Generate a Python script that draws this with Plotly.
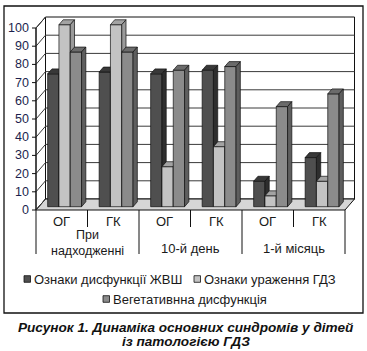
import plotly.graph_objects as go

# ---------------- data ----------------
subcats = ["ОГ", "ГК", "ОГ", "ГК", "ОГ", "ГК"]
groups = ["При<br>надходженні", "10-й день", "1-й місяць"]
series_names = ["Ознаки дисфункції ЖВШ", "Ознаки ураження ГДЗ", "Вегетативнна дисфункція"]
zhvsh = [73, 74, 73, 75, 14, 27]
gdz = [100, 100, 22, 33, 6, 14]
veg = [85, 85, 75, 77, 55, 62]
y_ticks = [0, 10, 20, 30, 40, 50, 60, 70, 80, 90, 100]
caption = ["Рисунок 1. Динаміка основних синдромів у дітей", "із патологією ГДЗ"]

series = [zhvsh, gdz, veg]
front_col = ["#4f4f4f", "#c3c3c3", "#8b8b8b"]
top_col = ["#383838", "#a3a3a3", "#6b6b6b"]
side_col = ["#2e2e2e", "#9a9a9a", "#5e5e5e"]

# ---------------- geometry (x in px, y in value units) ----------------
W_FIG, H_FIG = 367, 351
ZERO_PX = 210.0
K = 1.82  # px per unit
def py(p):
    return (ZERO_PX - p) / K

X_L, X_R = 36.0, 345.0
DX = 9.5
DY = 11.0 / K
NC = len(subcats)
CW = (X_R - X_L) / NC
BW = 11.3
F0, FB = 0.3, 0.45

fig = go.Figure()
shapes = []
ann = []

# outer border
shapes.append(dict(type="rect", xref="x", yref="y", x0=4, x1=363, y0=py(6), y1=py(313),
                   line=dict(color="#111", width=1.3), fillcolor="rgba(0,0,0,0)", layer="below"))
# back wall
shapes.append(dict(type="rect", xref="x", yref="y", x0=X_L + DX, x1=X_R + DX, y0=DY, y1=100 + DY,
                   line=dict(color="#111", width=1), fillcolor="white", layer="below"))
# left side wall
shapes.append(dict(type="path", xref="x", yref="y",
                   path=f"M{X_L},0 L{X_L},100 L{X_L+DX},{100+DY} L{X_L+DX},{DY} Z",
                   line=dict(color="#111", width=1), fillcolor="white", layer="below"))
# floor
shapes.append(dict(type="path", xref="x", yref="y",
                   path=f"M{X_L},0 L{X_R},0 L{X_R+DX},{DY} L{X_L+DX},{DY} Z",
                   line=dict(color="#111", width=1), fillcolor="#d6d6d6", layer="below"))
# gridlines
for v in y_ticks:
    if 0 < v < 100:
        shapes.append(dict(type="line", xref="x", yref="y", x0=X_L + DX, x1=X_R + DX, y0=v + DY, y1=v + DY,
                           line=dict(color="#3a3a3a", width=1), layer="below"))
    shapes.append(dict(type="line", xref="x", yref="y", x0=X_L, x1=X_L + DX, y0=v, y1=v + DY,
                       line=dict(color="#3a3a3a", width=1), layer="below"))
    shapes.append(dict(type="line", xref="x", yref="y", x0=X_L - 4, x1=X_L, y0=v, y1=v,
                       line=dict(color="#111", width=1), layer="below"))
    ann.append(dict(x=X_L - 5, y=v, xref="x", yref="y", text=str(v), showarrow=False,
                    xanchor="right", yanchor="middle",
                    font=dict(family="Liberation Sans, Arial", size=12.5, color="#1c1f4e")))
# front axis
shapes.append(dict(type="line", xref="x", yref="y", x0=X_L, x1=X_L, y0=0, y1=100,
                   line=dict(color="#111", width=1), layer="below"))

# category table lines
for k in range(0, NC + 1, 2):
    shapes.append(dict(type="line", xref="x", yref="y", x0=X_L + CW * k, x1=X_L + CW * k,
                       y0=0, y1=py(254), line=dict(color="#111", width=1)))
for k in range(1, NC, 2):
    shapes.append(dict(type="line", xref="x", yref="y", x0=X_L + CW * k, x1=X_L + CW * k,
                       y0=0, y1=py(227), line=dict(color="#111", width=1)))

tfont = dict(family="Liberation Sans, Arial", size=13, color="#1a1a1a")
for c, lab in enumerate(subcats):
    ann.append(dict(x=X_L + CW * (c + 0.5), y=py(221), xref="x", yref="y", text=lab,
                    showarrow=False, font=tfont))
for g, lab in enumerate(groups):
    cx = X_L + CW * (2 * g + 1)
    two = "<br>" in lab
    ann.append(dict(x=cx, y=py(242.5 if two else 248), xref="x", yref="y", text=lab,
                    showarrow=False, yanchor="middle",
                    font=dict(family="Liberation Sans, Arial", size=12.5 if two else 13, color="#1a1a1a")))

# bars (painter's order, left to right)
for c in range(NC):
    cx = X_L + CW * (c + 0.5)
    for s, vals in enumerate(series):
        v = vals[c]
        xl = cx - 1.5 * BW + s * BW + F0 * DX
        xr = xl + BW
        b = F0 * DY
        t = b + v
        dxb, dyb = FB * DX, FB * DY
        faces = [
            ([xl, xr, xr, xl, xl], [b, b, t, t, b], front_col[s]),
            ([xl, xr, xr + dxb, xl + dxb, xl], [t, t, t + dyb, t + dyb, t], top_col[s]),
            ([xr, xr + dxb, xr + dxb, xr, xr], [b, b + dyb, t + dyb, t, b], side_col[s]),
        ]
        for xs, ys, col in faces:
            fig.add_trace(go.Scatter(x=xs, y=ys, mode="lines", fill="toself", fillcolor=col,
                                     line=dict(color="#111", width=0.7), hoverinfo="skip",
                                     showlegend=False))

# legend
leg_pos = [(24, 279), (194, 279), (103, 299)]
lfont = dict(family="Liberation Sans, Arial", size=13, color="#1a1a1a")
for s, name in enumerate(series_names):
    lx, ly = leg_pos[s]
    shapes.append(dict(type="rect", xref="x", yref="y", x0=lx, x1=lx + 6.5, y0=py(ly + 3.3), y1=py(ly - 3.3),
                       line=dict(color="#111", width=0.8), fillcolor=front_col[s]))
    ann.append(dict(x=lx + 8, y=py(ly), xref="x", yref="y", text=name, showarrow=False,
                    xanchor="left", yanchor="middle", font=lfont))

# caption
cfont = dict(family="Liberation Sans, Arial", size=13.6, color="#111")
for i, line in enumerate(caption):
    ann.append(dict(x=W_FIG / 2 + 2, y=py(327.5 + 14 * i), xref="x", yref="y",
                    text=f"<b><i>{line}</i></b>", showarrow=False, font=cfont))

fig.update_layout(
    width=W_FIG, height=H_FIG, margin=dict(l=0, r=0, t=0, b=0),
    paper_bgcolor="white", plot_bgcolor="white", showlegend=False,
    xaxis=dict(range=[0, W_FIG], visible=False, fixedrange=True),
    yaxis=dict(range=[py(H_FIG), py(0)], visible=False, fixedrange=True),
    shapes=shapes, annotations=ann,
)
fig.write_html("out.html")
